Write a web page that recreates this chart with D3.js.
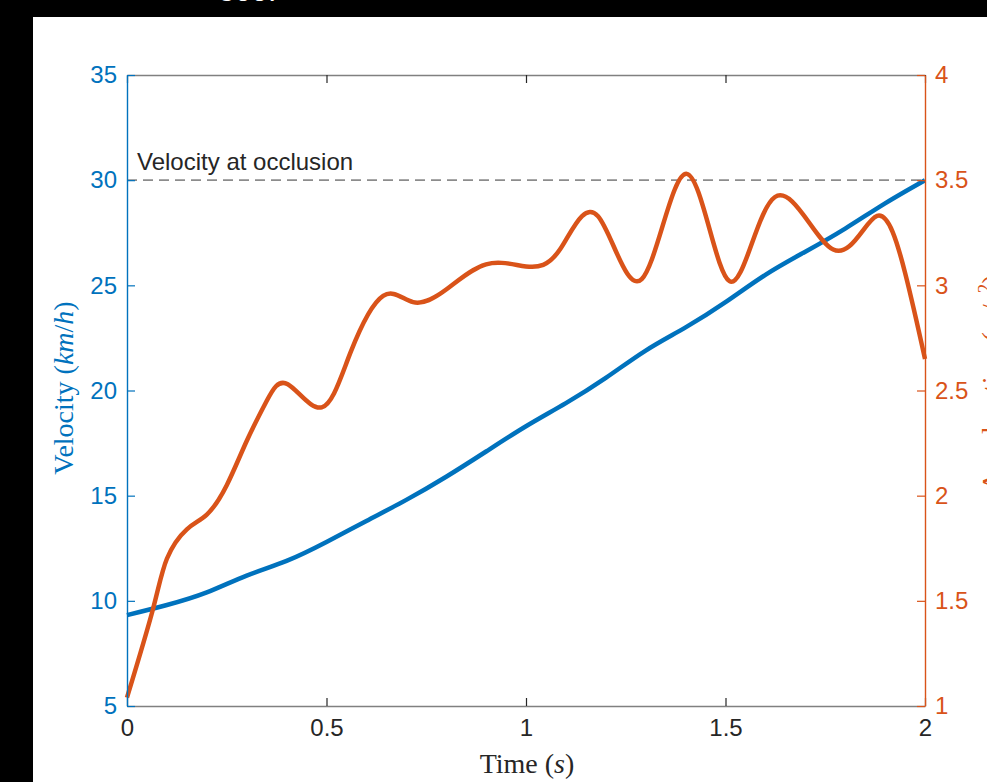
<!DOCTYPE html>
<html>
<head>
<meta charset="utf-8">
<script src="https://cdn.jsdelivr.net/npm/d3@7"></script>
<style>
  html, body { margin: 0; padding: 0; background: #000; }
  svg { display: block; }
</style>
</head>
<body>
<svg id="chart" width="987" height="782"></svg>
<script>
// ---- data ----
const velTime = [0,0.1,0.2,0.3,0.4,0.5,0.6,0.7,0.8,0.9,1.0,1.1,1.2,1.3,1.4,1.5,1.6,1.7,1.8,1.9,2.0];
const velValues = [9.32,9.8,10.4,11.2,11.9,12.8,13.8,14.8,15.9,17.1,18.3,19.4,20.6,21.9,23.0,24.2,25.5,26.6,27.7,28.9,30.0];

const accTime = [0,0.065,0.1,0.15,0.2,0.25,0.3,0.35,0.403,0.488,0.56,0.642,0.717,0.8,0.9,1.0,1.085,1.18,1.29,1.403,1.51,1.624,1.77,1.88,1.95,2.0];
const accValues = [1.04,1.46,1.70,1.84,1.91,2.05,2.26,2.45,2.53,2.42,2.68,2.95,2.92,2.98,3.10,3.09,3.17,3.33,3.03,3.53,3.02,3.42,3.17,3.33,3.06,2.65];

const xTicks = [0,0.5,1,1.5,2];
const xTickLabels = ["0","0.5","1","1.5","2"];
const yLeftTicks = [5,10,15,20,25,30,35];
const yRightTicks = [1,1.5,2,2.5,3,3.5,4];
const occlusionVelocity = 30;

// ---- setup ----
const svg = d3.select("#chart");
const BLUE = "#0072BD", ORANGE = "#D95319", DARK = "#262626";

svg.append("rect").attr("x",33).attr("y",17).attr("width",987-33).attr("height",782-17).attr("fill","#fff");
svg.append("text").attr("x",218).attr("y",1).attr("fill","#fff")
  .style("font-family","Liberation Sans, Arial, sans-serif").style("font-size","30px").text("300.");

const x = d3.scaleLinear().domain([0,2]).range([127,925]);
const yL = d3.scaleLinear().domain([5,35]).range([706,75]);
const yR = d3.scaleLinear().domain([1,4]).range([706,75]);

const sans = "Liberation Sans, Arial, Helvetica, sans-serif";
const serif = "Liberation Serif, Times New Roman, serif";

// dashed reference line
svg.append("line")
  .attr("x1",x(0)).attr("x2",x(2)).attr("y1",yL(occlusionVelocity)).attr("y2",yL(occlusionVelocity))
  .attr("stroke","#8c8c8c").attr("stroke-width",1.6).attr("stroke-dasharray","10,6");
svg.append("text").attr("x",137).attr("y",yL(occlusionVelocity)-10)
  .attr("fill",DARK).style("font-family",sans).style("font-size","24px").text("Velocity at occlusion");

// lines
const velData = velTime.map((t,i)=>({t, v: velValues[i]}));
const accData = accTime.map((t,i)=>({t, v: accValues[i]}));

svg.append("path").datum(velData)
  .attr("d", d3.line().x(d=>x(d.t)).y(d=>yL(d.v)).curve(d3.curveNatural))
  .attr("fill","none").attr("stroke",BLUE).attr("stroke-width",4.5).attr("stroke-linejoin","round");
svg.append("path").datum(accData)
  .attr("d", d3.line().x(d=>x(d.t)).y(d=>yR(d.v)).curve(d3.curveNatural))
  .attr("fill","none").attr("stroke",ORANGE).attr("stroke-width",4.5).attr("stroke-linejoin","round");

// axes
function style(g, color, textColor){
  g.select(".domain").attr("stroke",color).attr("stroke-width",1.4);
  g.selectAll(".tick line").attr("stroke",color).attr("stroke-width",1.2);
  g.selectAll(".tick text").attr("fill",textColor).style("font-family",sans).style("font-size","24px");
}

const gTop = svg.append("g").attr("transform",`translate(0,${yL(35)})`)
  .call(d3.axisTop(x).tickValues(xTicks).tickFormat("").tickSize(-8).tickSizeOuter(0));
style(gTop,"#808080",DARK);
gTop.selectAll(".tick line").attr("stroke","#262626");

const gBottom = svg.append("g").attr("transform",`translate(0,${yL(5)})`)
  .call(d3.axisBottom(x).tickValues(xTicks).tickFormat((d,i)=>xTickLabels[i]).tickSize(-8).tickSizeOuter(0).tickPadding(13));
style(gBottom,"#808080",DARK);
gBottom.selectAll(".tick line").attr("stroke","#262626");

const gLeft = svg.append("g").attr("transform",`translate(${x(0)},0)`)
  .call(d3.axisLeft(yL).tickValues(yLeftTicks).tickFormat(d3.format("d")).tickSize(-8).tickSizeOuter(0).tickPadding(10));
style(gLeft,BLUE,BLUE);

const gRight = svg.append("g").attr("transform",`translate(${x(2)},0)`)
  .call(d3.axisRight(yR).tickValues(yRightTicks).tickFormat(d=>String(d)).tickSize(-8).tickSizeOuter(0).tickPadding(10));
style(gRight,ORANGE,ORANGE);

// axis labels
const xl = svg.append("text").attr("x",527).attr("y",773).attr("text-anchor","middle")
  .attr("fill",DARK).style("font-family",serif).style("font-size","28px");
xl.append("tspan").text("Time (");
xl.append("tspan").style("font-style","italic").text("s");
xl.append("tspan").text(")");

const yl = svg.append("text").attr("transform","translate(73,388) rotate(-90)").attr("text-anchor","middle")
  .attr("fill",BLUE).style("font-family",serif).style("font-size","28px");
yl.append("tspan").text("Velocity (");
yl.append("tspan").style("font-style","italic").text("km");
yl.append("tspan").text("/");
yl.append("tspan").style("font-style","italic").text("h");
yl.append("tspan").text(")");

const yr = svg.append("text").attr("transform","translate(1001,383) rotate(-90)").attr("text-anchor","middle")
  .attr("fill",ORANGE).style("font-family",serif).style("font-size","28px");
yr.append("tspan").text("Acceleration (");
yr.append("tspan").style("font-style","italic").text("m");
yr.append("tspan").text("/");
yr.append("tspan").style("font-style","italic").text("s");
yr.append("tspan").attr("dy",-10).style("font-size","19px").text("2");
yr.append("tspan").attr("dy",10).text(")");
</script>
</body>
</html>
